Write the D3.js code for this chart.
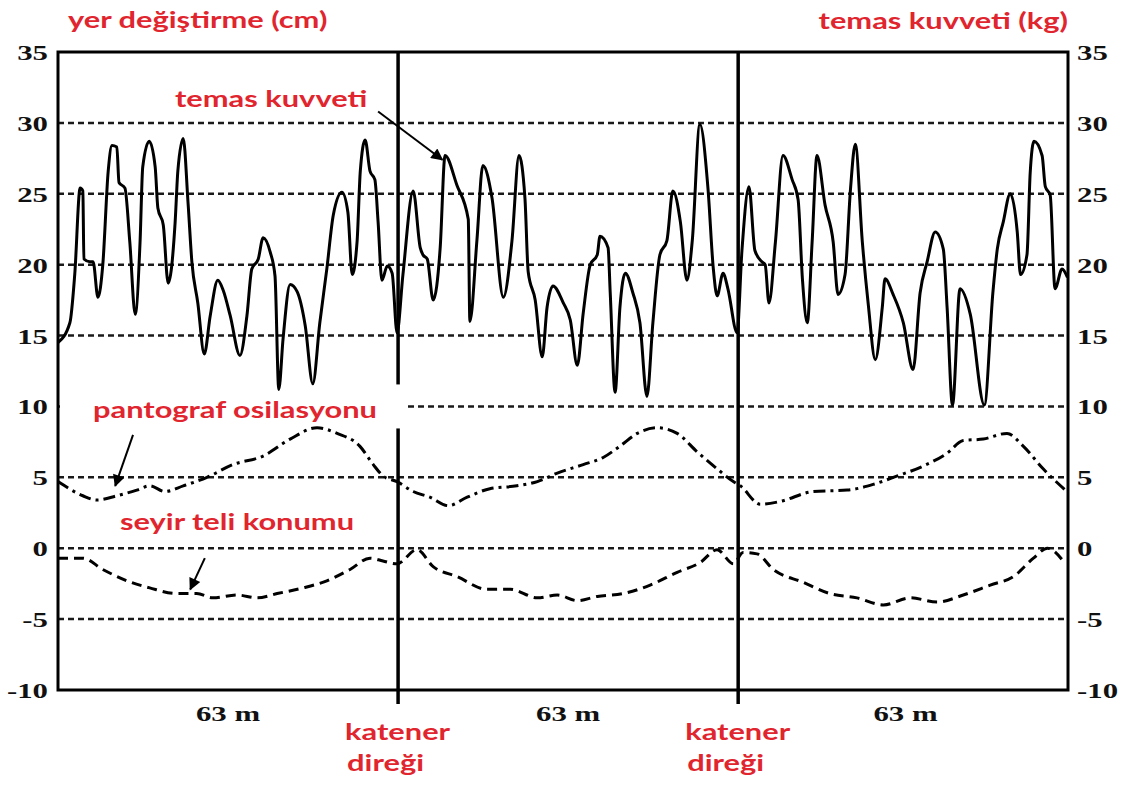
<!DOCTYPE html>
<html lang="tr">
<head>
<meta charset="UTF-8">
<title>temas kuvveti / yer değiştirme</title>
<script src="https://d3js.org/d3.v7.min.js"></script>
<style>
  body { margin: 0; background: #fff; }
  svg { display: block; }
  .red { fill: #e1252e; font-family: Lato, "Open Sans", sans-serif; font-weight: 700; font-size: 23px; }
  .num { fill: #111; font-family: "Liberation Serif", serif; font-weight: 700; font-size: 22px; }
</style>
</head>
<body>
<svg width="1123" height="787"></svg>
<script>
// contact force (kg) along the track (m)
var forcePos = [
  0,2.2,3.1,4.1,4.6,4.8,5.9,6.5,7.4,8.3,9.3,10.0,10.9,11.3,12.4,13.3,14.3,15.2,15.7,16.9,
  18.0,18.5,19.5,20.4,21.7,22.2,23.2,24.1,24.8,25.9,27.1,28.2,29.6,30.6,31.9,33.7,35.0,35.9,37.1,38.0,
  39.3,40.2,40.9,41.7,43.0,44.3,45.8,47.2,48.5,49.8,51.0,52.6,53.7,54.5,55.4,56.0,56.9,57.8,58.7,59.3,
  60.0,61.0,61.9,62.8,
  63.9,65.8,67.1,67.6,68.4,69.5,70.8,71.7,73.9,76.0,76.3,77.6,78.7,80.4,82.5,84.1,85.4,86.5,87.1,88.4,
  89.7,90.6,91.7,93.6,94.9,96.2,97.3,98.6,99.9,100.4,101.9,102.3,103.2,104.1,105.1,106.5,107.8,109.1,110.2,111.5,
  112.8,113.9,115.3,116.5,117.5,118.9,120.4,121.4,122.1,123.2,124.1,125.8,
  126.7,128.0,129.1,130.4,131.0,131.7,132.9,134.3,136.0,137.1,137.9,138.8,139.7,140.6,142.1,143.6,144.5,145.8,146.8,147.7,
  149.0,150.1,151.4,152.7,153.2,154.7,156.6,158.4,159.7,161.0,162.5,164.0,164.7,165.7,167.1,169.0,171.6,173.2,174.0,175.1,
  176.4,177.7,178.3,179.5,180.1,180.8,182.3,182.9,183.8,184.7,186.0,187.0
];
var forceKg = [
  14.5,15.9,19.3,25.4,25.2,20.4,20.2,20.2,17.7,20,26.6,28.4,28.3,25.8,25.4,21.6,16.5,21.6,26.9,28.7,
  26.9,24,22.8,18.7,23,26.6,28.9,24.3,20.2,17.3,13.7,16.4,18.9,18.2,16.4,13.6,16.4,19.7,20.4,21.9,
  20.9,19.2,11.2,14.8,18.6,18.1,15.7,11.6,15.9,19.7,23.5,25.1,23.7,19.3,21.6,26.6,28.8,26.6,26,23,
  18.9,19.9,19.4,15.2,
  19.3,25.2,21.2,20.7,20.4,17.5,21.2,27.7,25.6,23.2,16.0,21.7,27.0,24.7,17.7,21.7,27.7,24.7,19.5,17.5,
  13.5,17,18.5,17.3,16.1,12.9,16.6,20,20.7,22,21.2,18,11,17,19.4,18,15.9,10.7,15.9,20.7,
  21.7,25.2,23,18.9,21.7,29.9,25.4,19.7,17.8,19.4,18.3,15.2,
  21,25.5,21,20.2,20,17.3,21.6,27.7,26,24.6,19,15.9,21.6,27.7,24.2,21.6,17.9,19.3,25.3,28.5,
  21.6,17.2,13.3,17,19,17.9,15.9,12.6,18,20.2,22.3,21.1,17,10.1,18.3,16.5,10.1,18.1,21.1,23,
  25,22.3,19.3,20.7,26.5,28.7,27.7,25.5,24.9,18.3,19.7,19.1
];

// pantograph oscillation (cm)
var pantoPos = [
  0,4.6,7.2,10.9,14.6,17.0,19.8,23.2,27.6,32.4,38.0,43.0,48.0,51.7,55.9,58.4,60.2,62.8,65.8,68.9,
  72.3,75.8,80.0,85.0,88.8,92.5,97.3,101.0,104.1,107.3,111.0,114.7,118.4,122.1,125.1,126.4,130.1,133.8,139.9,146.2,
  151.0,155.5,160.3,164.7,167.7,171.4,175.8,178.8,182.5,186.6
];
var pantoCm = [
  4.7,3.7,3.4,3.7,4.1,4.4,4.0,4.4,5.0,5.9,6.5,7.7,8.5,8.1,7.2,5.9,5.1,4.7,4.0,3.6,
  3.0,3.6,4.2,4.4,4.7,5.3,5.9,6.4,7.2,8.1,8.5,8.1,6.8,5.6,4.7,4.4,3.1,3.3,4.0,4.1,
  4.5,5.1,5.8,6.7,7.6,7.7,8.1,7.2,5.6,4.1
];

// contact wire position (cm)
var wirePos = [
  0,4.6,8.3,12.8,17.0,22.0,25.7,28.7,33.2,36.9,40.6,45.4,49.8,54.1,57.8,60.2,62.8,66.5,69.5,73.9,
  79.5,83.8,88.8,92.5,96.2,99.9,104.7,109.7,114.7,119.0,122.1,125.1,126.9,129.5,132.5,138.0,143.0,148.0,152.9,157.9,
  162.9,167.7,172.7,177.0,180.7,183.3,186.6
];
var wireCm = [
  -0.7,-0.7,-1.5,-2.3,-2.8,-3.2,-3.2,-3.5,-3.3,-3.5,-3.2,-2.8,-2.3,-1.5,-0.7,-0.9,-1.1,-0.1,-1.3,-2.0,
  -2.9,-2.9,-3.5,-3.3,-3.7,-3.4,-3.2,-2.6,-1.7,-1.0,-0.1,-1.1,-0.3,-0.4,-1.5,-2.4,-3.2,-3.5,-4.0,-3.5,
  -3.8,-3.3,-2.6,-2.0,-0.7,0,-1.1
];

var yTicks = [35, 30, 25, 20, 15, 10, 5, 0, -5, -10];
var gridVals = [30, 25, 20, 15, 10, 5, 0, -5];
var postPos = [63, 126];
var spanMid = [31.5, 94.5, 157];
var spanLabel = "63 m";

var svg = d3.select("svg"),
    box = {left: 58, right: 1068, top: 52, bottom: 690},
    sx = 1.4,      // the source lettering is stretched sideways
    sxRed = 1.34;

var x = d3.scaleLinear().domain([0, 187.1]).range([box.left, box.right]);
var y = d3.scaleLinear().domain([-10, 35]).range([box.bottom, box.top]);

// dashed grid
svg.append("g").selectAll("line")
  .data(gridVals)
  .enter().append("line")
  .attr("x1", box.left).attr("x2", box.right)
  .attr("y1", function(d) { return y(d); })
  .attr("y2", function(d) { return y(d); })
  .attr("stroke", "#1a1a1a")
  .attr("stroke-width", 2.5)
  .attr("stroke-dasharray", "6,4");

// catenary posts
svg.append("g").selectAll("line")
  .data(postPos)
  .enter().append("line")
  .attr("x1", function(d) { return x(d); })
  .attr("x2", function(d) { return x(d); })
  .attr("y1", box.top).attr("y2", box.bottom + 14)
  .attr("stroke", "#000")
  .attr("stroke-width", 3.5);

// blank strip behind the pantograph label
svg.append("rect")
  .attr("x", box.left + 2).attr("y", y(10) - 22)
  .attr("width", x(63) - box.left + 6).attr("height", 44)
  .attr("fill", "#fff");

// frame
svg.append("rect")
  .attr("x", box.left).attr("y", box.top)
  .attr("width", box.right - box.left).attr("height", box.bottom - box.top)
  .attr("fill", "none").attr("stroke", "#000").attr("stroke-width", 3);

// axes (labels only)
function styleTicks(sel, dx, anchor) {
  sel.select(".domain").remove();
  sel.selectAll("text")
    .attr("class", "num")
    .attr("x", null)
    .attr("dy", "0.34em")
    .attr("text-anchor", anchor)
    .attr("transform", "translate(" + dx + ",0) scale(" + sx + ",1)");
}
svg.append("g")
  .attr("transform", "translate(" + box.left + ",0)")
  .call(d3.axisLeft(y).tickValues(yTicks).tickSize(0).tickFormat(function(d) { return String(d); }))
  .call(styleTicks, -10, "end");
svg.append("g")
  .attr("transform", "translate(" + box.right + ",0)")
  .call(d3.axisRight(y).tickValues(yTicks).tickSize(0).tickFormat(function(d) { return String(d); }))
  .call(styleTicks, 9, "start");

// curves
function curve(pos, vals) {
  return d3.line()
    .x(function(d, i) { return x(pos[i]); })
    .y(function(d) { return y(d); })
    .curve(d3.curveMonotoneX)(vals);
}
svg.append("path")
  .attr("d", curve(forcePos, forceKg))
  .attr("fill", "none").attr("stroke", "#000").attr("stroke-width", 3)
  .attr("stroke-linejoin", "round");
svg.append("path")
  .attr("d", curve(pantoPos, pantoCm))
  .attr("fill", "none").attr("stroke", "#000").attr("stroke-width", 3)
  .attr("stroke-dasharray", "12,5,3,5");
svg.append("path")
  .attr("d", curve(wirePos, wireCm))
  .attr("fill", "none").attr("stroke", "#000").attr("stroke-width", 3)
  .attr("stroke-dasharray", "10,6");

// arrows
svg.append("defs").append("marker")
  .attr("id", "head")
  .attr("viewBox", "0 0 10 10")
  .attr("refX", 9).attr("refY", 5)
  .attr("markerWidth", 7).attr("markerHeight", 6)
  .attr("markerUnits", "strokeWidth")
  .attr("orient", "auto")
  .append("path").attr("d", "M0,0L10,5L0,10z").attr("fill", "#000");

var arrows = [
  [59.3, 30.8, 71.2, 27.4],
  [13.9, 8.0, 10.6, 4.4],
  [27.2, -0.7, 24.5, -2.9]
];
svg.append("g").selectAll("line")
  .data(arrows)
  .enter().append("line")
  .attr("x1", function(d) { return x(d[0]); })
  .attr("y1", function(d) { return y(d[1]); })
  .attr("x2", function(d) { return x(d[2]); })
  .attr("y2", function(d) { return y(d[3]); })
  .attr("stroke", "#000").attr("stroke-width", 2)
  .attr("marker-end", "url(#head)");

// texts
function label(px, py, str, cls, anchor, k) {
  svg.append("text")
    .attr("class", cls)
    .attr("text-anchor", anchor || "start")
    .attr("transform", "translate(" + px + "," + py + ") scale(" + (k || sx) + ",1)")
    .text(str);
}
label(68, 28, "yer değiştirme (cm)", "red", "start", sxRed);
label(1068, 29, "temas kuvveti (kg)", "red", "end", sxRed);
label(175, 107, "temas kuvveti", "red", "start", sxRed);
label(93, 418, "pantograf osilasyonu", "red", "start", sxRed);
label(120, 530, "seyir teli konumu", "red", "start", sxRed);

postPos.forEach(function(p) {
  label(x(p) - 53, 740, "katener", "red", "start", sxRed);
  label(x(p) - 51, 771, "direği", "red", "start", sxRed);
});
spanMid.forEach(function(m) {
  label(x(m), 721, spanLabel, "num", "middle");
});
</script>
</body>
</html>
